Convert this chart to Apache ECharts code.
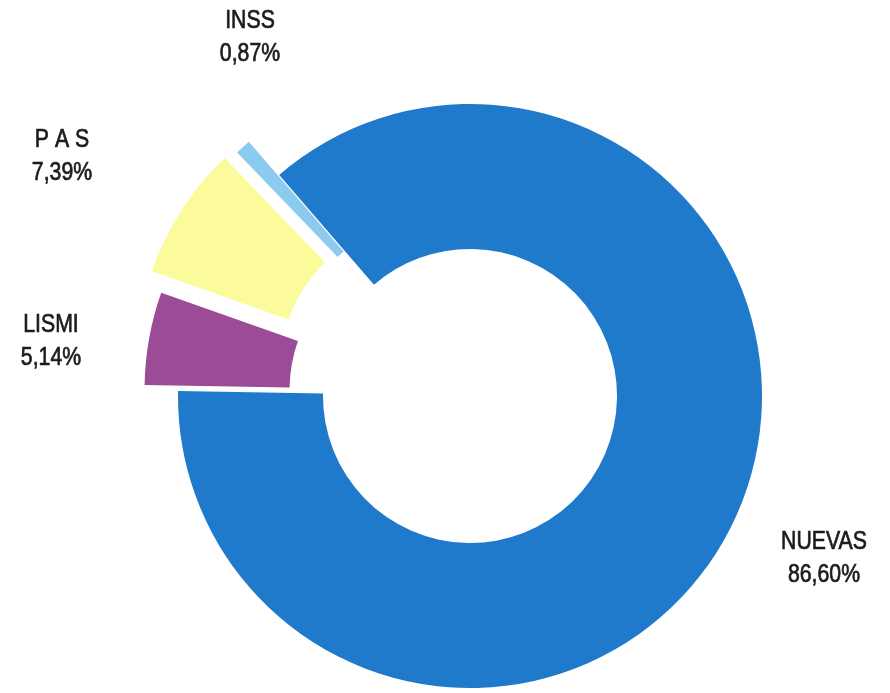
<!DOCTYPE html>
<html>
<head>
<meta charset="utf-8">
<script src="https://cdn.jsdelivr.net/npm/echarts@6/dist/echarts.min.js"></script>
<style>
html,body{margin:0;padding:0;background:#fff;}
#chart{width:890px;height:693px;}
</style>
</head>
<body>
<div id="chart"></div>
<script>
// ---- data ----
const categories = ['NUEVAS', 'LISMI', 'P A S', 'INSS'];
const shares = [86.60, 5.14, 7.39, 0.87];
const exploded = [false, true, true, true];

// ---- styling / layout (not data) ----
const colors = ['#1f7acb', '#9c4b97', '#fbfb9c', '#8ccbef'];
// each group of slices is drawn by its own pie layer so that each can have its own explode distance
const layers = [
  {items: [0, 1], offset: 34},
  {items: [2], offset: 51},
  {items: [3], offset: 45}
];
const labelAnchors = [[824, 559], [51, 342], [62, 157], [250, 38]];
const fontFam = "'Liberation Sans', Arial, sans-serif";

const fmt = v => v.toFixed(2).replace('.', ',') + '%';

function makeLayer(layer) {
  return {
    type: 'pie',
    center: [470, 396],
    radius: [147, 292],
    startAngle: 130.8,
    clockwise: true,
    selectedMode: 'multiple',
    selectedOffset: layer.offset,
    avoidLabelOverlap: false,
    emphasis: {disabled: true},
    label: {show: false},
    labelLine: {show: false},
    data: categories.map((c, i) => {
      const vis = layer.items.indexOf(i) >= 0;
      return {
        name: c,
        value: shares[i],
        selected: vis && exploded[i],
        itemStyle: {color: vis ? colors[i] : 'rgba(0,0,0,0)'}
      };
    })
  };
}

const chart = echarts.init(document.getElementById('chart'), null, {renderer: 'canvas'});
chart.setOption({
  backgroundColor: '#ffffff',
  animation: false,
  tooltip: {show: false},
  series: layers.map(makeLayer),
  graphic: categories.map((c, i) => ({
    type: 'text',
    x: labelAnchors[i][0],
    y: labelAnchors[i][1],
    scaleX: 0.85,
    silent: true,
    style: {
      text: c + '\n' + fmt(shares[i]),
      font: '25px ' + fontFam,
      lineHeight: 33,
      fill: '#1c1c1c',
      stroke: '#1c1c1c',
      lineWidth: 0.7,
      align: 'center',
      verticalAlign: 'middle'
    }
  }))
});
</script>
</body>
</html>
